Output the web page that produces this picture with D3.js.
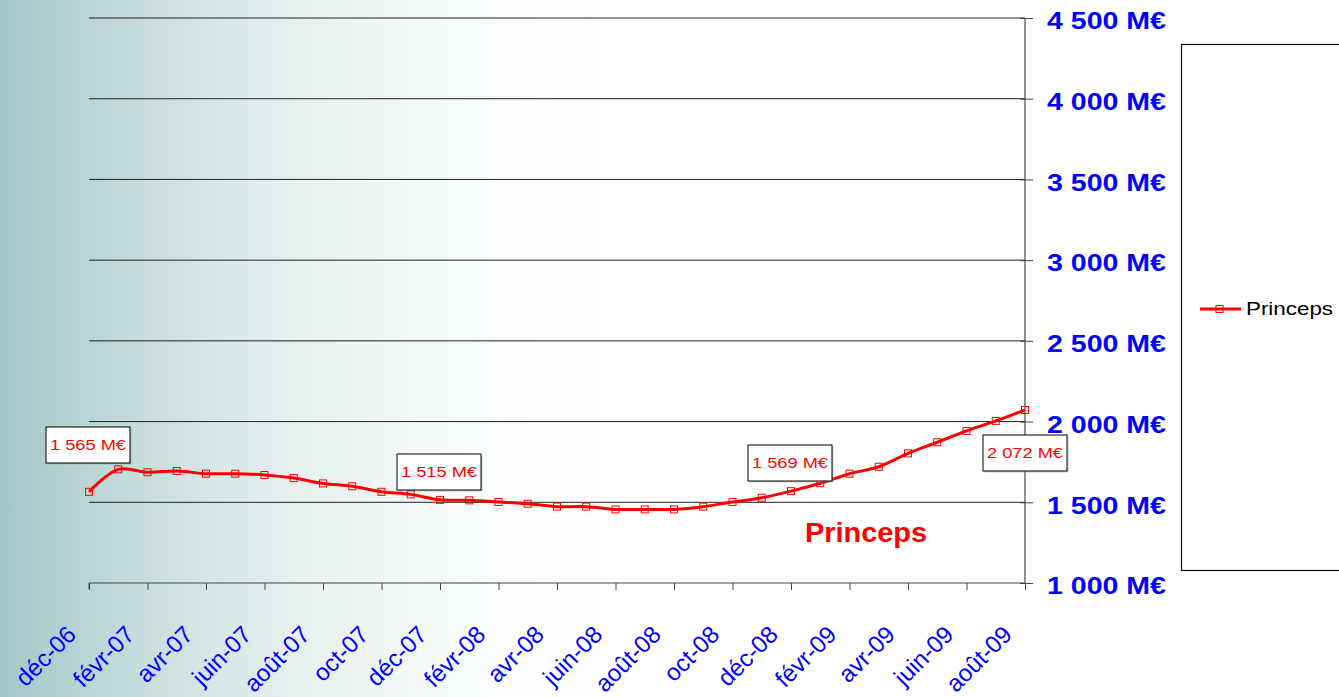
<!DOCTYPE html>
<html>
<head>
<meta charset="utf-8">
<script src="https://cdn.jsdelivr.net/npm/d3@7"></script>
<style>
  body { margin: 0; background: #fff; }
  svg { display: block; font-family: Arial, "Liberation Sans", sans-serif; }
</style>
</head>
<body>
<svg id="chart" width="1339" height="697"></svg>
<script>
// monthly values, déc-06 .. août-09
const months = ["déc-06","janv-07","févr-07","mars-07","avr-07","mai-07","juin-07","juil-07","août-07","sept-07","oct-07","nov-07",
  "déc-07","janv-08","févr-08","mars-08","avr-08","mai-08","juin-08","juil-08","août-08","sept-08","oct-08","nov-08",
  "déc-08","janv-09","févr-09","mars-09","avr-09","mai-09","juin-09","juil-09","août-09"];
const princeps = [1565, 1704, 1686, 1694, 1677, 1677, 1669, 1650, 1617, 1599, 1565, 1549,
  1515, 1512, 1502, 1491, 1473, 1473, 1456, 1456, 1456, 1473, 1502, 1528,
  1569, 1618, 1677, 1720, 1803, 1872, 1942, 2004, 2072];
const yTicks = [1000, 1500, 2000, 2500, 3000, 3500, 4000, 4500];
// labelled points: month index
const callouts = [
  { i: 0, bx: 46, by: 427 },
  { i: 12, bx: 397, by: 454 },
  { i: 24, bx: 748, by: 445 },
  { i: 32, bx: 983, by: 435 }
];

const W = 1339, H = 697;
const margin = { left: 89, right: 1025, top: 18, bottom: 583 };
const svg = d3.select("#chart");

// background gradient
const defs = svg.append("defs");
const grad = defs.append("linearGradient").attr("id", "bg").attr("x1", 0).attr("x2", 1).attr("y1", 0).attr("y2", 0);
grad.append("stop").attr("offset", "0").attr("stop-color", "#a2c7c8");
grad.append("stop").attr("offset", "0.1").attr("stop-color", "#c6dcdc");
grad.append("stop").attr("offset", "0.22").attr("stop-color", "#e8f0f0");
grad.append("stop").attr("offset", "0.38").attr("stop-color", "#fbfdfd");
grad.append("stop").attr("offset", "0.45").attr("stop-color", "#ffffff");
svg.append("rect").attr("width", W).attr("height", H).attr("fill", "url(#bg)");

const x = d3.scaleLinear().domain([0, months.length - 1]).range([margin.left, margin.right]);
const y = d3.scaleLinear().domain([1000, 4500]).range([margin.bottom, margin.top]);

// gridlines
svg.append("g").selectAll("line").data(yTicks.slice(1)).join("line")
  .attr("x1", margin.left).attr("x2", margin.right)
  .attr("y1", d => y(d)).attr("y2", d => y(d))
  .attr("stroke", "#222").attr("stroke-width", 1);

// x axis: ticks every 2 months
const xTickIdx = d3.range(0, months.length, 2);
const xAxis = d3.axisBottom(x).tickValues(xTickIdx).tickSize(7).tickFormat(d => months[d]);
const gx = svg.append("g").attr("transform", `translate(0,${margin.bottom})`).call(xAxis);
gx.select(".domain").attr("stroke", "#444").attr("d", `M${margin.left},6V0H${margin.right}`);
gx.selectAll(".tick line").attr("stroke", "#444");
gx.selectAll(".tick text")
  .attr("fill", "#0000ff").attr("font-size", 24)
  .attr("text-anchor", "end")
  .attr("transform", "translate(-18,47) rotate(-45)")
  .attr("dy", "0.35em").attr("y", 0).attr("x", 0);

// y axis on right
const yAxis = d3.axisRight(y).tickValues(yTicks).tickSize(8).tickFormat(d => d3.format(",")(d).replace(",", " ") + " M€");
const gy = svg.append("g").attr("transform", `translate(${margin.right},0)`).call(yAxis);
gy.select(".domain").attr("stroke", "#222").attr("d", `M0,${margin.top}V${margin.bottom}`);
gy.selectAll(".tick line").attr("stroke", "#444").attr("x1", -5).attr("x2", 8);
gy.selectAll(".tick text")
  .attr("fill", "#0000ff").attr("font-size", 24).attr("font-weight", "bold")
  .attr("x", 22).attr("dy", "0.45em")
  .attr("textLength", 119).attr("lengthAdjust", "spacingAndGlyphs");

// line
const line = d3.line().x((d, i) => x(i)).y(d => y(d)).curve(d3.curveCatmullRom.alpha(0.5));
svg.append("path").datum(princeps).attr("d", line)
  .attr("fill", "none").attr("stroke", "#ff0000").attr("stroke-width", 3);

svg.append("g").selectAll("rect").data(princeps).join("rect")
  .attr("x", (d, i) => x(i) - 3.5).attr("y", d => y(d) - 3.5)
  .attr("width", 7).attr("height", 7)
  .attr("fill", "none").attr("stroke", "#ff0000").attr("stroke-width", 1);

// callouts
const fmt = v => d3.format(",")(v).replace(",", " ") + " M€";
const cg = svg.append("g").selectAll("g").data(callouts).join("g")
  .attr("transform", d => `translate(${d.bx},${d.by})`);
cg.append("rect").attr("x", 1.5).attr("y", 1.5).attr("width", 84).attr("height", 36).attr("fill", "#999").attr("opacity", 0.5);
cg.append("rect").attr("width", 84).attr("height", 36).attr("fill", "#fff").attr("stroke", "#000").attr("stroke-width", 1);
cg.append("text").attr("x", 42).attr("y", 23).attr("text-anchor", "middle")
  .attr("fill", "#ff0000").attr("font-size", 15)
  .attr("textLength", 76).attr("lengthAdjust", "spacingAndGlyphs")
  .text(d => fmt(princeps[d.i]));

// series title in plot
svg.append("text").attr("x", 805).attr("y", 542)
  .attr("fill", "#ff0000").attr("font-size", 27).attr("font-weight", "bold")
  .attr("textLength", 122).attr("lengthAdjust", "spacingAndGlyphs")
  .text("Princeps");

// legend
const lg = svg.append("g");
lg.append("rect").attr("x", 1181.5).attr("y", 44.5).attr("width", 170).attr("height", 526)
  .attr("fill", "#fff").attr("stroke", "#000").attr("stroke-width", 1.2);
lg.append("line").attr("x1", 1200).attr("x2", 1241).attr("y1", 309).attr("y2", 309)
  .attr("stroke", "#ff0000").attr("stroke-width", 3);
lg.append("rect").attr("x", 1216).attr("y", 305.5).attr("width", 7).attr("height", 7)
  .attr("fill", "none").attr("stroke", "#ff0000");
lg.append("text").attr("x", 1246).attr("y", 315)
  .attr("fill", "#000").attr("font-size", 19)
  .attr("textLength", 87).attr("lengthAdjust", "spacingAndGlyphs")
  .text("Princeps");
</script>
</body>
</html>
